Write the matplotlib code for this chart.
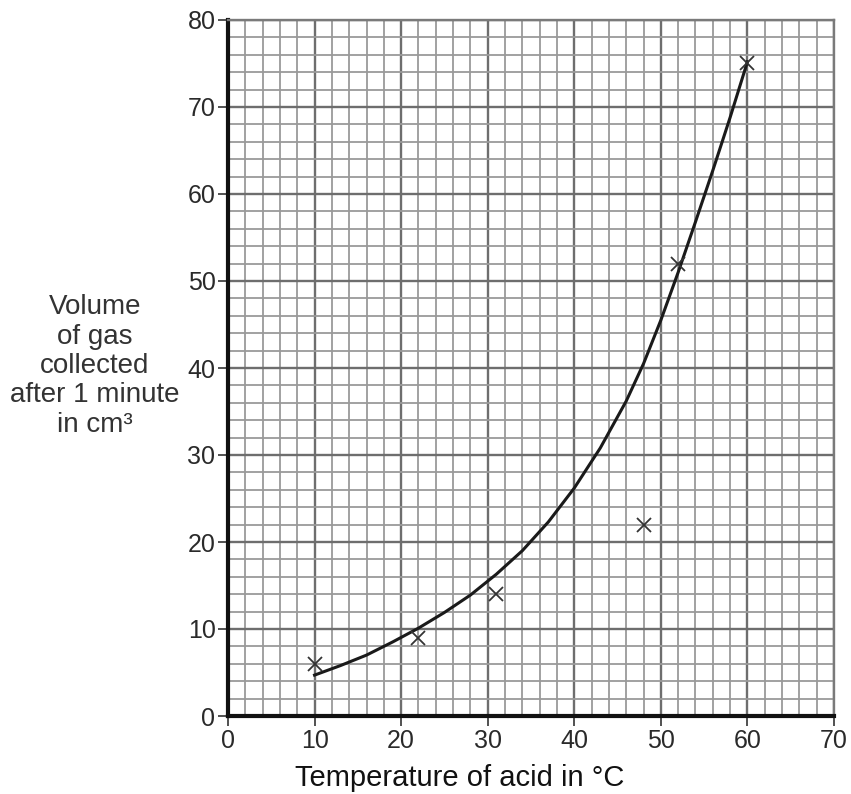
import numpy as np
import matplotlib
matplotlib.use("Agg")
import matplotlib.pyplot as plt

plt.rcParams['font.family'] = ['Liberation Sans', 'DejaVu Sans']

# measured points (crosses)
temp = [10, 22, 31, 48, 52, 60]
volume = [6, 9, 14, 22, 52, 75]

# hand drawn curve of best fit
curve_t = [10, 13, 16, 19, 22, 25, 28, 31, 34, 37, 40, 43, 46, 48, 50, 52, 54, 56, 58, 60]
curve_v = [4.7, 5.8, 7.0, 8.5, 10.1, 11.9, 13.9, 16.3, 19.0, 22.3, 26.2, 30.8, 36.2,
           40.5, 45.5, 51.0, 56.8, 62.7, 68.8, 75.2]

x_ticks = [0, 10, 20, 30, 40, 50, 60, 70]
y_ticks = [0, 10, 20, 30, 40, 50, 60, 70, 80]

fig = plt.figure(figsize=(8.51, 7.94), dpi=100)
ax = fig.add_axes([228 / 851, 1 - 716 / 794, (834 - 228) / 851, (716 - 20) / 794])

ax.set_xlim(0, 70)
ax.set_ylim(0, 80)
ax.set_xticks(x_ticks)
ax.set_yticks(y_ticks)
ax.set_xticks(np.arange(0, 71, 2), minor=True)
ax.set_yticks(np.arange(0, 81, 2), minor=True)

# graph paper
ax.grid(which='minor', color='#9a9a9a', linewidth=1.3)
ax.grid(which='major', color='#6e6e6e', linewidth=1.7)
ax.set_axisbelow(True)

ax.tick_params(which='minor', length=0)
ax.tick_params(which='major', direction='out', length=7, width=1.2, color='#333333',
               labelsize=18, labelcolor='#2a2a2a', pad=2)

for side in ['left', 'bottom']:
    ax.spines[side].set_linewidth(3)
    ax.spines[side].set_color('#111111')
for side in ['right', 'top']:
    ax.spines[side].set_linewidth(1.7)
    ax.spines[side].set_color('#7a7a7a')

ax.plot(curve_t, curve_v, color='#1a1a1a', linewidth=2.2, solid_joinstyle='round')
ax.plot(temp, volume, linestyle='none', marker='x', markersize=10,
        markeredgewidth=1.3, color='#333333')

fig.text(460 / 851, 1 - 778 / 794, 'Temperature of acid in °C', fontsize=21,
         color='#111111', ha='center', va='center')
fig.text(95 / 851, 1 - 366 / 794, 'Volume\nof gas\ncollected\nafter 1 minute\nin cm³',
         fontsize=20, color='#333333', ha='center', va='center', multialignment='center',
         linespacing=1.17)

fig.savefig('out.png', dpi=100)
